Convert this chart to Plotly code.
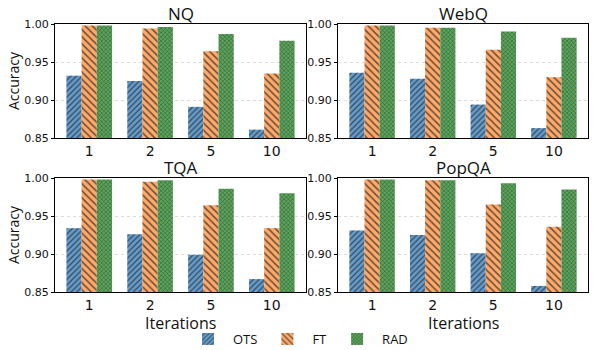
import plotly.graph_objects as go

iterations = ["1", "2", "5", "10"]
datasets = ["NQ", "WebQ", "TQA", "PopQA"]
series = ["OTS", "FT", "RAD"]

nq_ots = [0.932, 0.925, 0.891, 0.861]
nq_ft = [0.998, 0.994, 0.964, 0.935]
nq_rad = [0.998, 0.996, 0.987, 0.978]

webq_ots = [0.936, 0.928, 0.894, 0.863]
webq_ft = [0.998, 0.995, 0.966, 0.930]
webq_rad = [0.998, 0.995, 0.990, 0.982]

tqa_ots = [0.934, 0.926, 0.899, 0.867]
tqa_ft = [0.998, 0.995, 0.964, 0.934]
tqa_rad = [0.998, 0.997, 0.986, 0.980]

popqa_ots = [0.931, 0.925, 0.901, 0.858]
popqa_ft = [0.998, 0.997, 0.965, 0.936]
popqa_rad = [0.998, 0.997, 0.993, 0.985]

y_ticks = [0.85, 0.90, 0.95, 1.00]
y_tick_labels = ["0.85", "0.90", "0.95", "1.00"]

data = {
    "NQ": [nq_ots, nq_ft, nq_rad],
    "WebQ": [webq_ots, webq_ft, webq_rad],
    "TQA": [tqa_ots, tqa_ft, tqa_rad],
    "PopQA": [popqa_ots, popqa_ft, popqa_rad],
}

colors = ["#659ccb", "#fea96a", "#5ba55b"]
shapes = ["/", "\\", "x"]
psizes = [4, 5, 3]

W, H = 596, 350
xdoms = [(55 / W, 306 / W), (338 / W, 588 / W)]
ydoms = [(1 - 138 / H, 1 - 24 / H), (1 - 292 / H, 1 - 178 / H)]

fig = go.Figure()
TEXT_FONT = "Open Sans, DejaVu Sans, sans-serif"
NUM_FONT = "DejaVu Sans, sans-serif"

annotations = []
for i, ds in enumerate(datasets):
    row, col = divmod(i, 2)
    xa = "x" if i == 0 else f"x{i+1}"
    ya = "y" if i == 0 else f"y{i+1}"
    for j, s in enumerate(series):
        fig.add_trace(go.Bar(
            x=iterations, y=[v - 0.85 for v in data[ds][j]], base=0.85,
            name=s, xaxis=xa, yaxis=ya, showlegend=(i == 0),
            legendgroup=s,
            marker=dict(
                color=colors[j],
                line=dict(width=0),
                pattern=dict(shape=shapes[j], fillmode="overlay", bgcolor=colors[j],
                             fgcolor="#1a1a1a", fgopacity=0.65, size=psizes[j], solidity=0.3),
            ),
        ))
    axkey = "xaxis" if i == 0 else f"xaxis{i+1}"
    aykey = "yaxis" if i == 0 else f"yaxis{i+1}"
    fig.layout[axkey] = dict(
        domain=list(xdoms[col]), anchor=ya, type="category", automargin=False,
        range=[-0.5625, 3.5625], showline=True, linecolor="black", linewidth=1,
        mirror=True, ticks="inside", ticklen=0, tickcolor="black",
        tickfont=dict(family=NUM_FONT, size=14, color="#111"),
        showgrid=False,
    )
    fig.layout[aykey] = dict(
        domain=list(ydoms[row]), anchor=xa, range=[0.85, 1.0], automargin=False,
        tickvals=y_ticks, ticktext=y_tick_labels,
        showline=True, linecolor="black", linewidth=1, mirror=True,
        ticks="outside", ticklen=3, tickcolor="black",
        tickfont=dict(family=NUM_FONT, size=11, color="#111"),
        showgrid=True, gridcolor="#dddddd", griddash="dot", gridwidth=1,
        zeroline=False,
    )
    xc = (xdoms[col][0] + xdoms[col][1]) / 2
    annotations.append(dict(
        text=ds, xref="paper", yref="paper",
        x=xc, y=ydoms[row][1],
        xanchor="center", yanchor="bottom", yshift=-3, showarrow=False,
        font=dict(family=TEXT_FONT, size=17, color="#111"),
    ))
    if col == 0:
        annotations.append(dict(
            text="Accuracy", xref="paper", yref="paper", textangle=-90,
            x=13 / W, y=(ydoms[row][0] + ydoms[row][1]) / 2,
            xanchor="center", yanchor="middle", showarrow=False,
            font=dict(family=TEXT_FONT, size=14, color="#111"),
        ))
    if row == 1:
        annotations.append(dict(
            text="Iterations", xref="paper", yref="paper",
            x=xc, y=1 - 323 / H,
            xanchor="center", yanchor="middle", showarrow=False,
            font=dict(family=TEXT_FONT, size=16, color="#111"),
        ))

fig.update_layout(
    width=W, height=H, margin=dict(l=0, r=0, t=0, b=0, autoexpand=False),
    paper_bgcolor="white", plot_bgcolor="white",
    barmode="group", bargap=0.25, bargroupgap=0,
    annotations=annotations,
    legend=dict(orientation="h", x=0.5, xanchor="center", y=1 - 339 / H, yanchor="middle",
                font=dict(family=TEXT_FONT, size=13, color="#111"),
                itemwidth=40, tracegroupgap=0),
    showlegend=True,
)

fig.write_html("out.html", config={"displayModeBar": False},
               post_script="document.body.style.margin='0';")
